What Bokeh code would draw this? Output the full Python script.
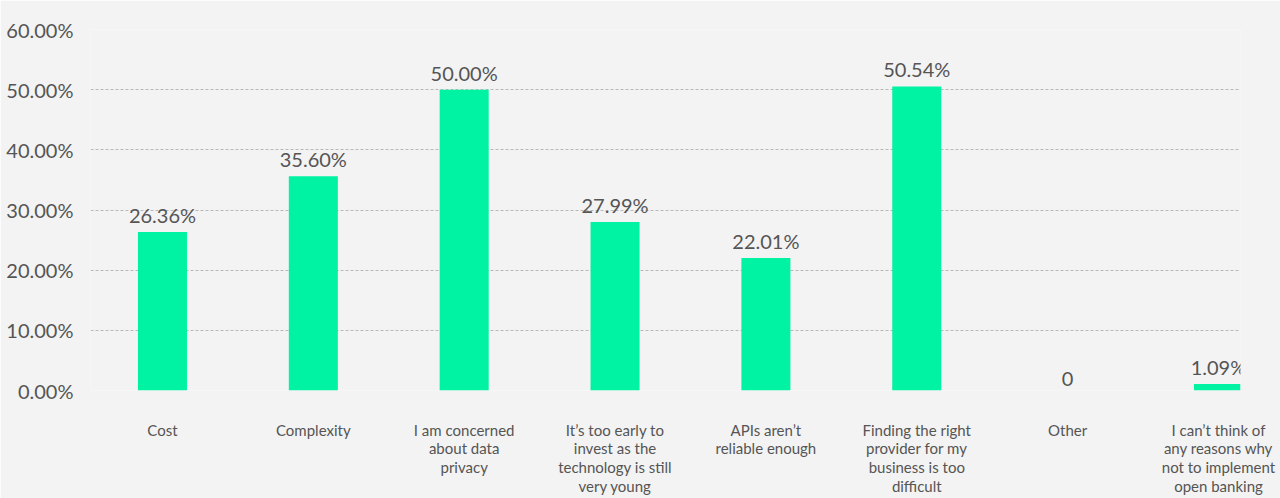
from bokeh.plotting import figure
from bokeh.models import Range1d, FixedTicker, ColumnDataSource
from bokeh.core.properties import value
from bokeh.embed import file_html
from bokeh.resources import INLINE

categories = [
    "Cost",
    "Complexity",
    "I am concerned\nabout data\nprivacy",
    "It\u2019s too early to\ninvest as the\ntechnology is still\nvery young",
    "APIs aren\u2019t\nreliable enough",
    "Finding the right\nprovider for my\nbusiness is too\ndifficult",
    "Other",
    "I can\u2019t think of\nany reasons why\nnot to implement\nopen banking",
]
values = [26.36, 35.60, 50.00, 27.99, 22.01, 50.54, 0.0, 1.09]
value_labels = ["26.36%", "35.60%", "50.00%", "27.99%", "22.01%", "50.54%", "0", "1.09%"]
y_ticks = [0, 10, 20, 30, 40, 50, 60]
y_tick_labels = ["0.00%", "10.00%", "20.00%", "30.00%", "40.00%", "50.00%", "60.00%"]

FONT = "Lato"
BG = "#f3f3f3"
TXT = "#555555"

xs = list(range(len(categories)))
src = ColumnDataSource(dict(x=xs, top=values, lab=value_labels))

p = figure(width=1280, height=498, output_backend="svg", toolbar_location=None,
           x_range=Range1d(-0.477, 7.146), y_range=Range1d(0, 60),
           min_border_left=90, min_border_right=40, min_border_top=29, min_border_bottom=107)
p.background_fill_color = BG
p.border_fill_color = BG
p.outline_line_color = None

p.vbar(x="x", top="top", bottom=0, width=0.325, source=src, color="#00F2A3", line_color=None)
p.text(x="x", y="top", text="lab", source=src, text_align="center", text_baseline="bottom",
       y_offset=-5, text_font=value(FONT), text_font_size="20px", text_color=TXT)

p.xaxis.ticker = FixedTicker(ticks=xs)
p.xaxis.major_label_overrides = {i: c for i, c in enumerate(categories)}
p.xaxis.axis_line_color = None
p.xaxis.major_tick_line_color = None
p.xaxis.minor_tick_line_color = None
p.xaxis.major_label_standoff = 24
p.xaxis.major_label_text_font = FONT
p.xaxis.major_label_text_font_size = "15px"
p.xaxis.major_label_text_color = TXT
p.xaxis.major_label_text_line_height = 1.05
p.xgrid.grid_line_color = None

p.yaxis.ticker = FixedTicker(ticks=y_ticks)
p.yaxis.major_label_overrides = {t: l for t, l in zip(y_ticks, y_tick_labels)}
p.yaxis.axis_line_color = None
p.yaxis.major_tick_line_color = None
p.yaxis.minor_tick_line_color = None
p.yaxis.major_label_standoff = 11
p.yaxis.major_label_text_font = FONT
p.yaxis.major_label_text_font_size = "20px"
p.yaxis.major_label_text_color = TXT
p.ygrid.grid_line_color = "#b8b8b8"
p.ygrid.grid_line_dash = "3 2"
p.ygrid.grid_line_width = 1

open("out.html", "w").write(file_html(p, INLINE))
